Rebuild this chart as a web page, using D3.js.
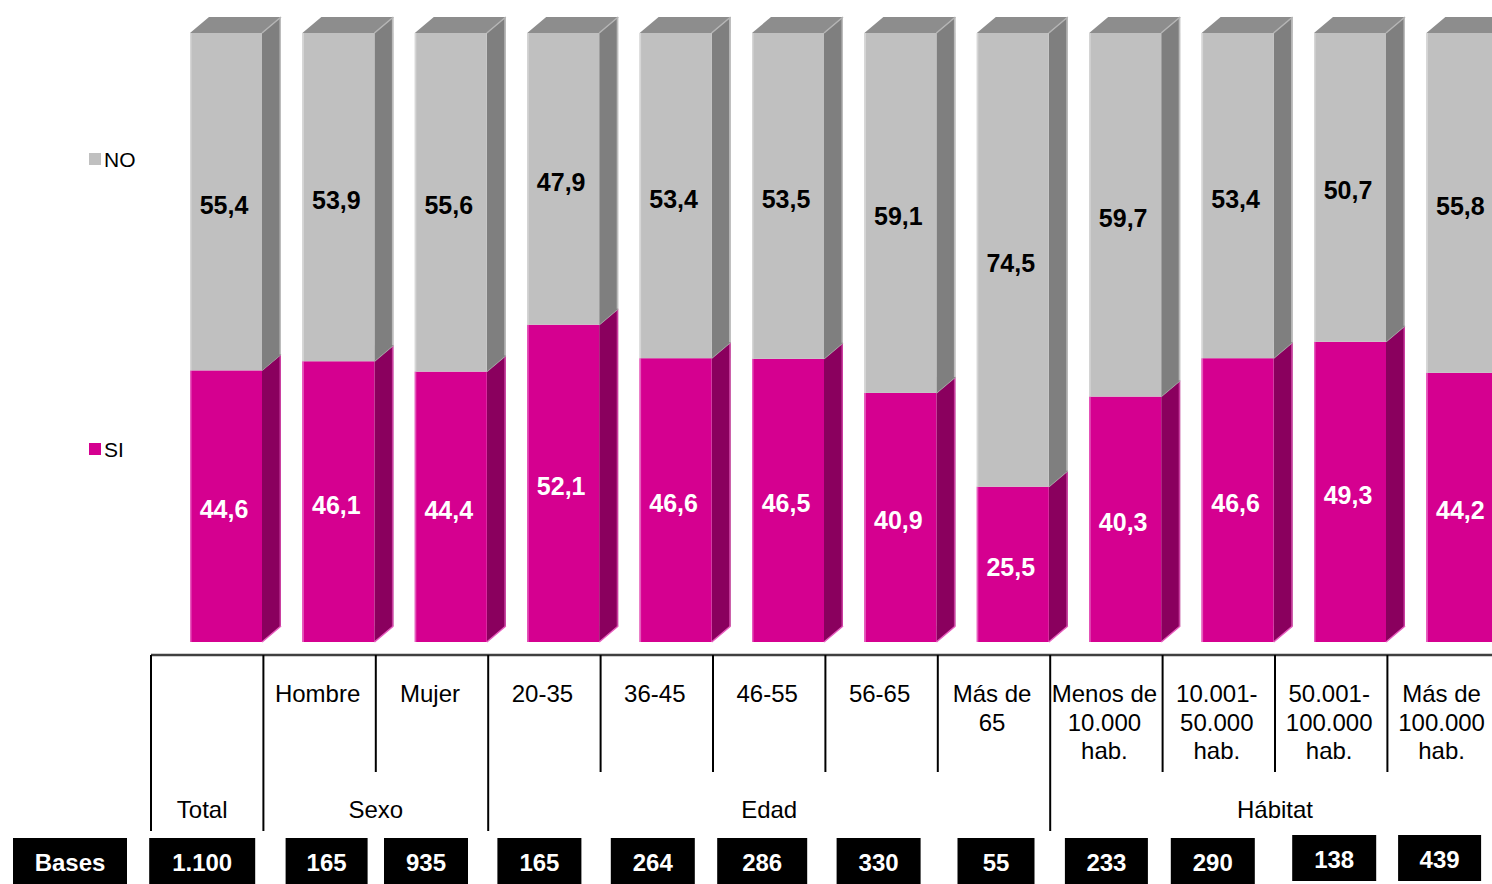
<!DOCTYPE html>
<html>
<head>
<meta charset="utf-8">
<script src="https://cdn.jsdelivr.net/npm/d3@7"></script>
<style>
  html, body { margin: 0; padding: 0; background: #ffffff; }
  svg { display: block; font-family: "Liberation Sans", Arial, sans-serif; }
</style>
</head>
<body>
<svg id="chart" width="1492" height="884"></svg>
<script>
// Survey results: share answering SI / NO by segment (percent)
const categories = ["Total", "Hombre", "Mujer", "20-35", "36-45", "46-55", "56-65",
  "Más de 65", "Menos de 10.000 hab.", "10.001-50.000 hab.", "50.001-100.000 hab.", "Más de 100.000 hab."];
const categoryLines = [[], ["Hombre"], ["Mujer"], ["20-35"], ["36-45"], ["46-55"], ["56-65"],
  ["Más de", "65"], ["Menos de", "10.000", "hab."], ["10.001-", "50.000", "hab."],
  ["50.001-", "100.000", "hab."], ["Más de", "100.000", "hab."]];
const siValues = [44.6, 46.1, 44.4, 52.1, 46.6, 46.5, 40.9, 25.5, 40.3, 46.6, 49.3, 44.2];
const noValues = [55.4, 53.9, 55.6, 47.9, 53.4, 53.5, 59.1, 74.5, 59.7, 53.4, 50.7, 55.8];
const bases = [1100, 165, 935, 165, 264, 286, 330, 55, 233, 290, 138, 439];
const groupNames = ["Total", "Sexo", "Edad", "Hábitat"];
const groupSpans = [1, 2, 5, 4];
const seriesNames = ["SI", "NO"];

// Hand placement of the bases boxes (horizontal shift, width, vertical shift)
const baseBoxShift = [-5, 7, -6, -5, -4, -7, -3, 2, 0, -6, 3, -4];
const baseBoxWidth = [106, 82, 84, 84, 84, 90, 84, 77, 83, 84, 84, 83];
const baseBoxLift = [0, 0, 0, 0, 0, 0, 0, 0, 0, 0, 3, 3];

const locale = d3.formatLocale({ decimal: ",", thousands: ".", grouping: [3], currency: ["", " €"] });
const fmtPct = locale.format(".1f");
const fmtBase = locale.format(",d");

const svg = d3.select("#chart");

// Scales
const x = d3.scaleBand().domain(categories).range([151, 151 + 112.4 * categories.length]).padding(0);
const y = d3.scaleLinear().domain([0, 100]).range([642, 33]);
const bw = x.bandwidth();
const frontW = 72;
const frontOffset = 39;
const dx = 19, dy = 16;

const colors = {
  SI: { front: "#d50090", side: "#8a005e", top: "#a0006e", edge: "#e65bbd" },
  NO: { front: "#c0c0c0", side: "#7f7f7f", top: "#8d8d8d", edge: "#d6d6d6" }
};

const stackData = categories.map((c, i) => ({ cat: c, SI: siValues[i], NO: noValues[i] }));
const stacked = d3.stack().keys(seriesNames)(stackData);

const barsG = svg.append("g");
categories.forEach((cat, i) => {
  const g = barsG.append("g");
  const x0 = x(cat) + frontOffset;
  const x1 = x0 + frontW;
  stacked.forEach((layer, li) => {
    const key = layer.key;
    const [v0, v1] = layer[i];
    const yb = y(v0), yt = y(v1);
    const c = colors[key];
    // side face
    g.append("polygon")
      .attr("points", [[x1, yb], [x1 + dx, yb - dy], [x1 + dx, yt - dy], [x1, yt]].map(p => p.join(",")).join(" "))
      .attr("fill", c.side);
    // front face
    g.append("rect").attr("x", x0).attr("y", yt).attr("width", frontW).attr("height", yb - yt)
      .attr("fill", c.front);
    // light left edge
    g.append("line").attr("x1", x0 + 0.75).attr("x2", x0 + 0.75).attr("y1", yt).attr("y2", yb)
      .attr("stroke", c.edge).attr("stroke-width", 1.5);
    // light back edge of the side
    g.append("line").attr("x1", x1 + dx - 0.75).attr("x2", x1 + dx - 0.75).attr("y1", yt - dy).attr("y2", yb - dy)
      .attr("stroke", c.edge).attr("stroke-width", 1.5).attr("opacity", 0.7);
    if (li === 0) {
      // bottom edge highlight
      g.append("line").attr("x1", x1).attr("y1", yb).attr("x2", x1 + dx).attr("y2", yb - dy)
        .attr("stroke", c.edge).attr("stroke-width", 1.5);
    }
    if (li === stacked.length - 1) {
      // top face
      g.append("polygon")
        .attr("points", [[x0, yt], [x0 + dx, yt - dy], [x1 + dx, yt - dy], [x1, yt]].map(p => p.join(",")).join(" "))
        .attr("fill", c.top);
      g.append("line").attr("x1", x1).attr("y1", yt).attr("x2", x1 + dx).attr("y2", yt - dy)
        .attr("stroke", "#b5b5b5").attr("stroke-width", 1.5);
    } else {
      // segment boundary on the side
      g.append("line").attr("x1", x1).attr("y1", yt).attr("x2", x1 + dx).attr("y2", yt - dy)
        .attr("stroke", "#b0b0b0").attr("stroke-width", 1.2);
    }
    // value label
    g.append("text")
      .attr("x", x0 + frontW / 2 - 2)
      .attr("y", (yb + yt) / 2 + 12)
      .attr("text-anchor", "middle")
      .attr("font-size", 25).attr("font-weight", "bold")
      .attr("fill", key === "SI" ? "#ffffff" : "#000000")
      .text(fmtPct(v1 - v0));
  });
});

// Legend
const legendY = { NO: 159, SI: 449 };
seriesNames.forEach(k => {
  svg.append("rect").attr("x", 89).attr("y", legendY[k] - 6).attr("width", 12).attr("height", 12)
    .attr("fill", colors[k].front);
  svg.append("text").attr("x", 104).attr("y", legendY[k] + 8).attr("font-size", 21).attr("fill", "#000")
    .text(k);
});

// Category table
const table = svg.append("g");
const tableTop = 655, shortBottom = 772, fullBottom = 831;
table.append("line").attr("x1", 151).attr("x2", 1492).attr("y1", tableTop).attr("y2", tableTop)
  .attr("stroke", "#404040").attr("stroke-width", 2.5);

const groupStarts = [];
groupSpans.reduce((acc, s) => { groupStarts.push(acc); return acc + s; }, 0);

categories.forEach((cat, i) => {
  const full = groupStarts.includes(i);
  table.append("line").attr("x1", x(cat)).attr("x2", x(cat))
    .attr("y1", tableTop).attr("y2", full ? fullBottom : shortBottom)
    .attr("stroke", "#000").attr("stroke-width", 2);
  categoryLines[i].forEach((ln, j) => {
    table.append("text").attr("x", x(cat) + bw / 2 - 2).attr("y", 702 + j * 28.5)
      .attr("text-anchor", "middle").attr("font-size", 24).attr("fill", "#000").text(ln);
  });
});

groupNames.forEach((name, gi) => {
  const first = categories[groupStarts[gi]];
  const last = categories[groupStarts[gi] + groupSpans[gi] - 1];
  const cx = (x(first) + x(last) + bw) / 2;
  table.append("text").attr("x", gi === 0 ? cx - 5 : cx).attr("y", 818)
    .attr("text-anchor", "middle").attr("font-size", 24).attr("fill", "#000").text(name);
});

// Bases row
const basesG = svg.append("g");
basesG.append("rect").attr("x", 13).attr("y", 838).attr("width", 114).attr("height", 46).attr("fill", "#000");
basesG.append("text").attr("x", 70).attr("y", 871).attr("text-anchor", "middle")
  .attr("font-size", 24).attr("font-weight", "bold").attr("fill", "#fff").text("Bases");
categories.forEach((cat, i) => {
  const w = baseBoxWidth[i];
  const cx = x(cat) + bw / 2 + baseBoxShift[i];
  const top = 838 - baseBoxLift[i];
  basesG.append("rect").attr("x", cx - w / 2).attr("y", top).attr("width", w).attr("height", 46).attr("fill", "#000");
  basesG.append("text").attr("x", cx).attr("y", top + 33).attr("text-anchor", "middle")
    .attr("font-size", 24).attr("font-weight", "bold").attr("fill", "#fff").text(fmtBase(bases[i]));
});
</script>
</body>
</html>
